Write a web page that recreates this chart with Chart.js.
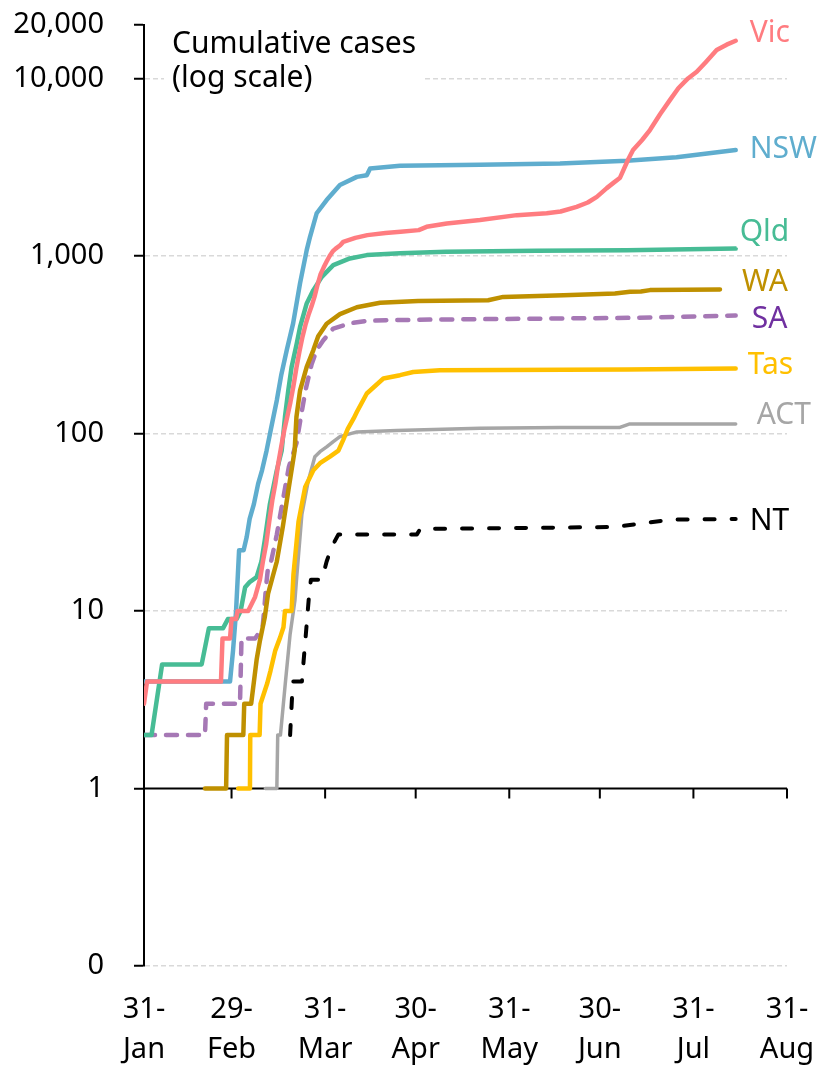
<!DOCTYPE html>
<html><head><meta charset="utf-8">
<script src="https://cdn.jsdelivr.net/npm/chart.js@4.4.1/dist/chart.umd.min.js"></script>
<style>html,body{margin:0;padding:0;background:#fff}#wrap{width:822px;height:1066px}</style>
</head><body><div id="wrap"><canvas id="c" width="822" height="1066"></canvas></div>
<script>
// x values are days since 31 Jan 2020
const xTickDays = [0, 29, 60, 90, 121, 151, 182, 213];
const xTickLabels = [['31-','Jan'],['29-','Feb'],['31-','Mar'],['30-','Apr'],['31-','May'],['30-','Jun'],['31-','Jul'],['31-','Aug']];
const yTickValues = [0.1, 1, 10, 100, 1000, 10000, 20000];
const yTickLabels = ['0', '1', '10', '100', '1,000', '10,000', '20,000'];
const titleLines = ['Cumulative cases', '(log scale)'];
const states = ['Vic', 'NSW', 'Qld', 'WA', 'SA', 'Tas', 'ACT', 'NT'];

const vic = [[0,3],[1,4],[25.5,4],[26,7],[28.5,7],[29,9],[30.5,9],[31,10],[34.5,10],[36.8,12],[38.4,15],[39.4,19],[40.5,24],[41.5,32],[42.5,42],[43.5,52],[44.5,68],[45.5,85],[46.5,105],[47.5,125],[48.5,150],[49.5,185],[50.5,235],[51.5,290],[52.5,350],[53.5,410],[54.5,466],[55.5,520],[56.5,590],[57.5,690],[58.5,790],[59.5,860],[60.5,930],[61.5,1000],[62.5,1060],[63.5,1100],[65,1150],[66,1200],[70,1265],[74,1310],[80,1345],[85,1368],[91,1398],[93.6,1459],[100.3,1525],[111.3,1592],[123.5,1698],[133.4,1738],[138,1780],[143.3,1892],[147,2000],[150,2153],[153.3,2410],[155.5,2580],[157.7,2760],[160.3,3470],[162,3950],[165,4500],[167.6,5120],[171,6300],[174.2,7550],[177,8800],[180.2,10000],[183.1,10900],[186,12300],[189.7,14450],[193,15500],[196,16300]];
const nsw = [[0,4],[28.5,4],[29.5,6],[30.5,10],[31.5,22],[33,22],[34,26],[35,33],[36.4,40],[37.8,52],[39.1,62],[40.6,80],[42,105],[44,154],[45.5,215],[47.3,295],[49.4,417],[51.7,703],[53.9,1078],[55,1282],[57.2,1740],[60.5,2064],[64.9,2510],[70.5,2790],[73.8,2850],[74.9,3110],[84.8,3220],[111.3,3260],[137.8,3320],[159.9,3440],[176.4,3600],[196,3950]];
const qld = [[0,2],[2.5,2],[6,5],[19.1,5],[21.5,8],[26.2,8],[27.8,9],[30.7,9],[32,10],[33.5,13.6],[35.1,14.6],[37.3,15.5],[38.9,19],[40,25],[41.7,40],[44,62],[45.6,80],[46.7,124],[47.8,175],[48.9,237],[50.6,321],[51.7,398],[53.9,540],[56.1,642],[58.9,762],[62.7,888],[68.2,968],[73.8,1011],[84.8,1035],[100,1055],[130,1070],[160,1078],[196,1100]];
const wa = [[20.2,1],[27.2,1],[27.5,2],[32.9,2],[33.2,3],[35.5,3],[37.3,5.3],[38.4,6.8],[40,9.2],[41.1,12.5],[42.8,16],[44,19],[46,30],[48,50],[49.9,80],[50.5,124],[51.7,175],[53.9,237],[56.1,295],[57.7,353],[60.5,415],[64.9,470],[70.5,514],[78.2,545],[90.8,558],[114,563],[119,588],[139,601],[156,615],[161,628],[164.6,630],[167.6,642],[190.8,648]];
const sa = [[0,2],[20.2,2],[20.6,3],[31.8,3],[32.3,7],[36.8,7],[39.3,8.1],[39.9,10.5],[40.4,13.6],[41,17],[42.1,19],[44,27],[46,42],[48,65],[50.5,88],[52,125],[53.5,175],[55.5,245],[57.2,295],[59.4,335],[62.7,390],[68.2,417],[73.8,431],[82.6,435],[95,438],[161,448],[196,462]];
const tas = [[31.2,1],[35.1,1],[35.2,2],[38.3,2],[38.6,3],[40.8,3.9],[41.9,4.6],[43.5,6],[45.1,7.1],[46.2,8.1],[46.7,10],[48.9,10],[49.5,16],[51.2,32],[53.4,50],[56.1,62],[58.3,68],[61.6,74],[64.4,80],[66,92],[67.5,106],[69.5,122],[70.5,132],[73.8,168],[79.3,204],[84.8,213],[89.2,222],[98,227],[160,229],[196,232]];
const act = [[40.2,1],[44,1],[44.3,2],[45.2,2],[46.8,3.9],[48.4,7.4],[50,11.5],[50.6,15.6],[52.3,35],[54.4,54],[56.6,74],[58.3,79],[60.5,84],[62.7,90],[64.9,96],[70.5,102],[83.7,104],[111.3,107],[137.8,108],[157.4,108],[160.7,113],[196,113]];
const nt = [[48.4,2],[49.3,4],[52.3,4],[53.5,7],[54.8,13],[55.3,15],[58.9,15],[60.5,19],[62.2,23],[64.4,27],[90.4,27],[91.5,29],[155.5,29.7],[175,32.7],[196,33]];

const seriesData = [vic, nsw, qld, wa, sa, tas, act, nt];

// styles (kept apart from data)
const lineColors  = ['#FF7C80','#5FADCE','#47BC95','#BF9000','#A678B5','#FFC000','#A6A6A6','#000000'];
const labelColors = ['#FF7C80','#5FADCE','#47BC95','#BF9000','#7030A0','#FFC000','#A6A6A6','#000000'];
const lineWidths  = [4.5,4.5,4.5,4.5,4.5,4.5,3.5,4];
const lineDashes  = [[],[],[],[],[11,11],[],[],[10,17]];
const labelOffsets = [[14,-7],[14,-1],[4,-16],[22,-7],[16,4],[12,-3],[21,-9],[14,3]];

const FONT = "'Noto Sans', 'DejaVu Sans', sans-serif";
Chart.defaults.font.family = FONT;
Chart.defaults.font.size = 29;
Chart.defaults.color = '#000';

const overlay = {
  id: 'overlay',
  beforeDatasetsDraw(chart) {
    const {ctx, scales: {x, y}} = chart;
    const py = y.getPixelForValue(1);
    ctx.save();
    ctx.strokeStyle = '#000';
    ctx.lineWidth = 2;
    ctx.beginPath();
    ctx.moveTo(x.left, py);
    ctx.lineTo(x.right, py);
    xTickDays.forEach(d => {
      const px = x.getPixelForValue(d);
      ctx.moveTo(px, py);
      ctx.lineTo(px, py + 10);
    });
    ctx.stroke();
    ctx.restore();
  },
  afterDraw(chart) {
    const {ctx, chartArea, scales: {x, y}} = chart;
    ctx.save();
    const tx = chartArea.left + 28, ty = chartArea.top + 19;
    ctx.font = '30px ' + FONT;
    const w = Math.max(...titleLines.map(t => ctx.measureText(t).width));
    ctx.fillStyle = '#fff';
    ctx.fillRect(tx - 8, ty - 20, w + 14, 34 * titleLines.length + 8);
    ctx.fillStyle = '#000';
    ctx.textBaseline = 'middle';
    ctx.textAlign = 'left';
    titleLines.forEach((t, i) => ctx.fillText(t, tx, ty + i * 34));
    seriesData.forEach((d, i) => {
      const last = d[d.length - 1];
      const px = x.getPixelForValue(last[0]) + labelOffsets[i][0];
      const py = y.getPixelForValue(last[1]) + labelOffsets[i][1];
      const tw = ctx.measureText(states[i]).width;
      ctx.fillStyle = '#fff';
      ctx.fillRect(px - 3, py - 15, tw + 6, 30);
      ctx.fillStyle = labelColors[i];
      ctx.fillText(states[i], px, py);
    });
    ctx.restore();
  }
};

new Chart(document.getElementById('c'), {
  type: 'line',
  data: {
    datasets: seriesData.map((d, i) => ({
      label: states[i],
      data: d.map(p => ({x: p[0], y: p[1]})),
      borderColor: lineColors[i],
      borderWidth: lineWidths[i],
      borderDash: lineDashes[i],
      borderCapStyle: 'round',
      borderJoinStyle: 'round',
      pointRadius: 0,
      tension: 0,
      fill: false
    }))
  },
  options: {
    responsive: false,
    animation: false,
    layout: {padding: {top: 25, right: 35, left: 0, bottom: 0}},
    plugins: {legend: {display: false}, tooltip: {enabled: false}},
    scales: {
      x: {
        type: 'linear', min: 0, max: 213,
        afterBuildTicks: s => { s.ticks = xTickDays.map(v => ({value: v})); },
        afterFit: s => { s.height = 100; s.paddingLeft = 0; s.paddingRight = 0; },
        grid: {display: false, drawTicks: false},
        border: {display: false},
        ticks: {
          autoSkip: false, maxRotation: 0, padding: 24, color: '#000',
          font: {size: 29, lineHeight: '40px'},
          callback: (v, i) => xTickLabels[i]
        }
      },
      y: {
        type: 'logarithmic', min: 0.1, max: 20000,
        afterBuildTicks: s => { s.ticks = yTickValues.map(v => ({value: v})); },
        afterFit: s => { s.width = 144; s.paddingTop = 0; s.paddingBottom = 0; },
        grid: {
          color: c => (c.tick && (c.tick.value === 1 || c.tick.value === 20000)) ? 'rgba(0,0,0,0)' : '#D9D9D9',
          lineWidth: 1.5, tickColor: '#000', tickWidth: 2, tickLength: 10
        },
        border: {color: '#000', width: 2, dash: [5, 3]},
        ticks: {
          padding: 30, color: '#000', font: {size: 29},
          callback: (v, i) => yTickLabels[i]
        }
      }
    }
  },
  plugins: [overlay]
});
</script>
</body></html>
